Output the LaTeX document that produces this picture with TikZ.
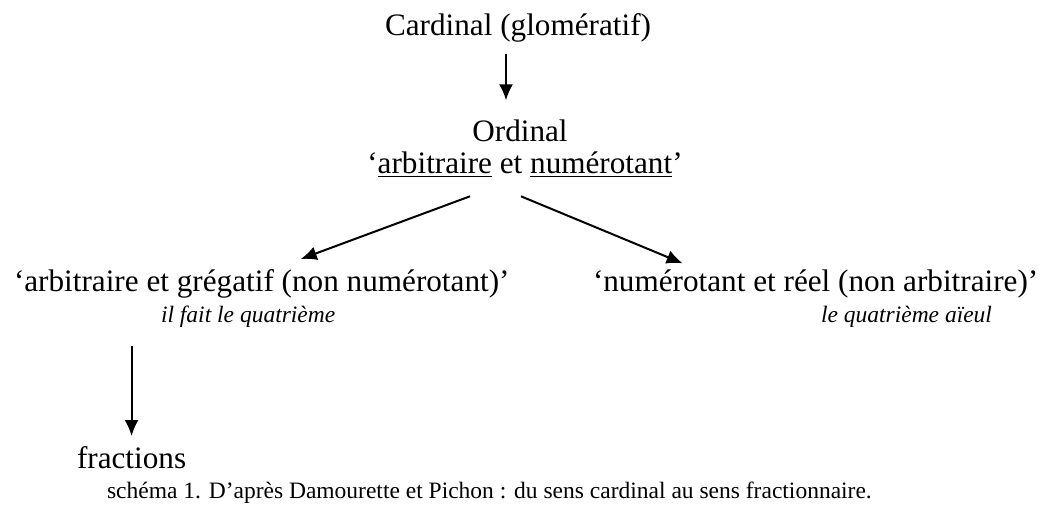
\documentclass[tikz,border=0pt]{standalone}
\usepackage{fontspec}
\setmainfont{Liberation Serif}
\usepackage{tikz}
\usetikzlibrary{arrows.meta}

\begin{document}
\begin{tikzpicture}
    %[->,>=latex,every node/.style={inner sep=0pt}]
    [x=0.5pt,y=-0.5pt,->,>={Latex[length=8pt,width=7pt]},line width=1pt,
     every node/.style={inner sep=0pt,font=\fontsize{15.6}{18}\selectfont},
     nt/.style={font=\fontsize{11.75}{14}\selectfont\itshape},
     ncap/.style={font=\fontsize{11.75}{14}\selectfont}]
    \useasboundingbox (0,0) rectangle (1045,504);

    \node[anchor=base] (nc) at (518,35) {Cardinal (glomératif)};
    \node[anchor=base] (no) at (520,141) {Ordinal};
    \node[anchor=base] (noq) at (525,173) {‘\underline{arbitraire} et \underline{numérotant}’};
    \node[anchor=base west] (na) at (13,291) {‘arbitraire et grégatif (non numérotant)’};
    \node[anchor=base west] (nn) at (592,291) {‘numérotant et réel (non arbitraire)’};
    \node[nt,anchor=base west] (nai) at (160,322) {il fait le quatrième};
    \node[nt,anchor=base east] (nni) at (993,322) {le quatrième aïeul};
    \node[anchor=base west] (nfr) at (76,468) {fractions};
    \node[ncap,anchor=base west] (ns) at (106,498) {schéma 1. D’après Damourette et Pichon : du sens cardinal au sens fractionnaire.};

    \path ([xshift=-7pt,yshift=-5.5pt]no.north |- nc.south) edge ([xshift=-7pt,yshift=9pt]no.north);
    \path ([xshift=-27.5pt,yshift=-9pt]noq.south) edge ([xshift=19.5pt,yshift=4.5pt]na.north);
    \path ([xshift=-2pt,yshift=-9pt]noq.south) edge ([xshift=-66.5pt,yshift=2.5pt]nn.north);
    \path ([yshift=-9pt]nfr.north |- nai.south) edge ([yshift=4.5pt]nfr.north);

  \end{tikzpicture}
\end{document}
